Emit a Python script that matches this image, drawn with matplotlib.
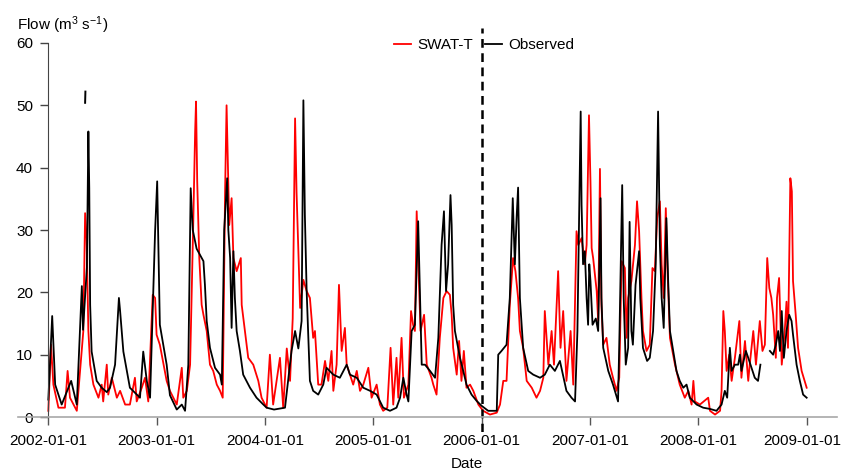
import numpy as np
import pandas as pd
import matplotlib.pyplot as plt
import matplotlib.dates as mdates
import matplotlib.transforms as mtransforms

plt.rcParams['font.family'] = ['Liberation Sans', 'DejaVu Sans']
plt.rcParams['mathtext.fontset'] = 'custom'
plt.rcParams['mathtext.rm'] = 'Liberation Sans'
plt.rcParams['mathtext.it'] = 'Liberation Sans:italic'

# record starts 2002-01-01, days counted from there
start = pd.Timestamp('2002-01-01')
split_date = pd.Timestamp('2006-01-01')   # calibration / validation split
years = list(range(2002, 2010))

# observed flow (m3/s); NaN = missing record
obs_day = [0, 13, 23, 45, 77, 96, 113, 117, 130, 135, 138, 141, 146, 163, 180, 197,
           208, 225, 238, 242, 253, 275, 309, 320, 332, 343, 360, 367, 376, 399, 410,
           433, 450, 461, 472, 480, 487, 500, 523, 528, 534, 545, 562, 579, 585, 593,
           603, 607, 613, 618, 624, 629, 635, 646, 657, 680, 702, 725, 736, 761, 798,
           820, 832, 843, 854, 860, 865, 871, 876, 882, 893, 910, 927, 938, 961, 983,
           1006, 1017, 1040, 1062, 1085, 1107, 1129, 1152, 1174, 1186, 1197, 1208, 1214,
           1225, 1236, 1247, 1253, 1259, 1270, 1287, 1304, 1315, 1326, 1334, 1341, 1348,
           1356, 1360, 1365, 1371, 1388, 1399, 1410, 1427, 1444, 1461, 1483, 1512, 1517,
           1528, 1545, 1556, 1566, 1573, 1579, 1584, 1590, 1601, 1618, 1635, 1658, 1674,
           1691, 1708, 1725, 1747, 1764, 1776, 1784, 1789, 1795, 1798, 1803, 1809, 1815,
           1820, 1824, 1828, 1835, 1846, 1854, 1862, 1865, 1871, 1888, 1904, 1921, 1926,
           1935, 1940, 1947, 1955, 1960, 1966, 1971, 1980, 1992, 1996, 2005, 2019, 2028,
           2039, 2048, 2056, 2062, 2068, 2075, 2084, 2090, 2096, 2107, 2118, 2129, 2141,
           2152, 2163, 2186, 2208, 2231, 2253, 2270, 2281, 2289, 2298, 2304, 2315, 2326,
           2332, 2337, 2352, 2360, 2371, 2382, 2393, 2401, 2417, 2433, 2444, 2453, 2461,
           2467, 2473, 2480, 2489, 2498, 2506, 2511, 2523, 2534, 2545, 2557]
obs_flow = [2.8, 16.2, 5.2, 2.0, 5.8, 2.0, 21, 14, 24, 45.8, 36.7, 18, 10.5, 5.8, 4.7, 4.0,
            4.7, 8.4, 19.1, 17, 10.5, 4.7, 3.1, 10.5, 5.8, 3.1, 29.8, 37.8, 14.8, 8.4, 3.5,
            1.2, 2.0, 1.0, 8.4, 36.7, 30, 27, 25, 21.2, 15.4, 11.1, 7.9, 6.8, 5.2, 30,
            38.3, 30, 25.5, 14.3, 26.6, 19.1, 13.8, 10.6, 6.8, 4.7, 3.1, 2.0, 1.5, 1.2, 1.5,
            10.6, 13.8, 11, 15.4, 50.8, 32.4, 20.2, 13.8, 5.8, 4.2, 3.6, 5.2, 7.9, 6.8, 6.3,
            8.4, 6.8, 6.3, 4.7, 4.2, 3.6, 1.5, 1.0, 1.5, 3.1, 6.3, 3.6, 2.5,
            13.8, 14.8, 31.4, 20, 8.4, 8.4, 7.4, 6.3, 12.7, 27.6, 33, 20.2, 24.5,
            35.6, 30.8, 18, 13.8, 9.5, 7.4, 5.2, 3.6, 2.6, 1.8, 1.0, 1.0, 10,
            10.6, 11.6, 19.1, 35.1, 24.5, 32, 36.8, 19.1, 11.1, 7.4, 6.8, 6.3, 6.8,
            8.4, 7.4, 9, 4.2, 3.1, 2.5, 13.8, 29.8, 49, 34, 24.5, 26.6, 19.1,
            14.8, 24.5, 21.8, 14.8, 15.8, 13.8, 35.1, 19.1, 11.1, 7.4, 5.2, 2.5, 13.8,
            37.2, 19.1, 8.4, 11.1, 31.3, 13.8, 11.6, 21.2, 26.6, 19.1, 11.1, 9, 9.5,
            13.8, 24.5, 49, 27.7, 19.1, 14.3, 31.9, 21.8, 13.8, 10.6, 7.4, 5.8, 4.7,
            5.2, 3.1, 2.0, 1.5, 1.3, 1.0, 2.0, 4.2, 3.1, 11.1, 7.4, 8.4, 8.4,
            10, 7.4, 10.6, 9.5, 7.9, 6.3, 5.8, 8.4, np.nan, 10.6, 10, 11.6, 13.8,
            10.6, 17, 9.5, 13.8, 16.4, 15.4, 13.2, 8.4, 5.8, 3.6, 3.1]

# isolated observed readings in May 2002
obs_iso_day = [124, 125]
obs_iso_flow = [50.4, 52.2]

# SWAT-T simulated flow (m3/s)
swat_day = [0, 9, 17, 34, 56, 65, 73, 96, 118, 124, 129, 135, 141, 152, 169, 180, 185,
            197, 202, 214, 231, 242, 259, 275, 292, 298, 315, 326, 337, 352, 360, 365,
            376, 399, 410, 433, 450, 455, 467, 478, 489, 495, 498, 502, 509, 517, 523,
            534, 545, 556, 568, 579, 588, 596, 601, 610, 618, 624, 635, 649, 652, 663,
            674, 691, 708, 719, 736, 747, 758, 781, 792, 804, 815, 824, 832, 837, 843,
            849, 860, 871, 882, 893, 899, 910, 921, 933, 944, 955, 961, 972, 980, 989,
            1000, 1006, 1017, 1028, 1040, 1051, 1062, 1079, 1090, 1107, 1118, 1129, 1143,
            1154, 1163, 1174, 1180, 1191, 1199, 1214, 1223, 1230, 1236, 1242, 1247, 1255,
            1267, 1276, 1292, 1298, 1309, 1320, 1332, 1343, 1354, 1360, 1365, 1377, 1385,
            1393, 1401, 1410, 1422, 1433, 1450, 1466, 1489, 1512, 1523, 1534, 1545, 1556,
            1567, 1575, 1584, 1590, 1601, 1613, 1630, 1646, 1658, 1669, 1674, 1686, 1697,
            1705, 1719, 1727, 1736, 1747, 1761, 1770, 1781, 1787, 1798, 1809, 1815, 1823,
            1828, 1832, 1837, 1849, 1854, 1860, 1865, 1871, 1882, 1893, 1904, 1916, 1925,
            1933, 1944, 1950, 1955, 1966, 1978, 1985, 1992, 2000, 2005, 2017, 2028, 2037,
            2045, 2053, 2062, 2068, 2075, 2082, 2087, 2096, 2113, 2129, 2146, 2158, 2169,
            2175, 2180, 2197, 2225, 2231, 2248, 2265, 2270, 2276, 2281, 2287, 2296, 2304,
            2315, 2330, 2337, 2349, 2360, 2365, 2377, 2386, 2393, 2399, 2408, 2416, 2424,
            2431, 2438, 2444, 2453, 2457, 2464, 2473, 2483, 2489, 2494, 2502, 2507, 2511,
            2520, 2528, 2540, 2557]
swat_flow = [1.0, 11.6, 5.2, 1.5, 1.5, 7.4, 3.1, 1.0, 13.8, 32.7, 28.7, 13.8, 8.4, 5.2, 3.1, 5.2, 2.5,
             8.4, 3.6, 6.3, 3.1, 4.2, 2.0, 2.0, 6.3, 2.5, 4.7, 6.3, 2.5, 19.6, 19.1, 13.2,
             11.6, 5.8, 4.2, 2.0, 7.9, 3.1, 4.2, 8.4, 31.9, 45.8, 50.6, 37.8, 25.5, 18, 16.4,
             13.8, 8.4, 7.4, 5.2, 4.2, 3.1, 36.2, 50, 30.8, 35.1, 25.5, 23.4, 25.5, 18, 13.8,
             9.5, 8.4, 5.8, 3.1, 1.5, 10, 2.0, 9.5, 1.5, 11, 5.8, 15.8, 47.9, 36, 27,
             17.5, 22, 20.2, 19.1, 12.7, 13.8, 5.2, 5.2, 9, 5.8, 10.6, 4.2, 8.4, 21.2, 10.6,
             14.3, 8.4, 6.8, 5.2, 7.4, 4.2, 5.2, 7.9, 3.1, 5.2, 2.0, 1.0, 1.5,
             11.1, 2.0, 9.5, 3.1, 12.7, 3.1, 5.2, 17, 14.8, 13.8, 33, 25.5, 13.8,
             16.4, 8.4, 6.3, 5.2, 3.6, 12.7, 19.1, 20.2, 19.6, 16.4, 11.1, 6.8, 12.2,
             5.8, 10.6, 4.7, 5.2, 4.2, 2.0, 1.0, 0.4, 0.7, 2.0, 5.8, 5.8, 18,
             25.5, 23.4, 19.1, 13.8, 11.1, 5.8, 4.7, 3.1, 4.2, 6.3, 17, 8.4, 13.8,
             8.4, 23.4, 11.1, 17, 5.8, 13.8, 5.2, 29.8, 27.6, 28.7, 24.5, 27.6, 48.4,
             37.8, 27.1, 25.5, 20.2, 15.4, 39.8, 18, 11.6, 12.7, 8.4, 6.3, 4.2, 6.3,
             25, 23.9, 12.7, 19.1, 21.8, 27.6, 34.6, 29.8, 19.1, 13.8, 10.6, 11.6, 23.9,
             23.4, 31.9, 34.6, 24.5, 19.1, 33.5, 24.5, 12.7, 8.4, 5.2, 3.1, 4.2, 2.0,
             5.8, 2.5, 2.0, 3.1, 1.0, 0.4, 1.0, 4.2, 17, 13.8, 7.4, 10, 5.8,
             9.5, 15.4, 6.3, 12.2, 5.8, 8.4, 13.8, 8.4, 12.2, 15.4, 10.6, 11.6, 25.5,
             20.7, 19.1, 16.4, 9.5, 19.1, 22.3, 8.4, 13.8, 18.5, 11.1, 38.3, 36.2, 21.8,
             16.4, 11.1, 7.4, 4.7]


def to_dates(days):
    return start + pd.to_timedelta(np.asarray(days, dtype=float), unit='D')


fig = plt.figure(figsize=(8.43, 4.71), dpi=100)
ax = fig.add_axes([18 / 843, 1 - 432 / 471, 819 / 843, 404 / 471])

ax.plot(to_dates(swat_day), swat_flow, color='#ff0000', lw=1.3, label='SWAT-T')
ax.plot(to_dates(obs_day), obs_flow, color='black', lw=1.3, label='Observed')
ax.plot(to_dates(obs_iso_day), obs_iso_flow, color='black', lw=1.4)

ax.axvline(split_date, color='black', lw=1.8, ls=(0, (3.5, 2.2)))

# R-style range padding of 4 % on both axes
t0 = mdates.date2num(pd.Timestamp('2002-01-01'))
t1 = mdates.date2num(pd.Timestamp('2009-01-01'))
pad = 0.04 * (t1 - t0)
ax.set_xlim(t0 - pad, t1 + pad)
ax.set_ylim(-2.4, 62.4)

for s in ('top', 'right'):
    ax.spines[s].set_visible(False)
ax.spines['left'].set_position(('data', t0))
ax.spines['left'].set_bounds(0, 60)
ax.spines['left'].set_color('#444444')
ax.spines['bottom'].set_position(('data', 0))
ax.spines['bottom'].set_color('#a8a8a8')
ax.spines['bottom'].set_linewidth(1.2)

ax.set_yticks(range(0, 61, 10))
ax.tick_params(axis='y', direction='out', length=6, width=1, color='#444444',
               labelsize=11, pad=5)
ax.set_xticks([pd.Timestamp(f'{y}-01-01') for y in years])
ax.xaxis.set_major_formatter(mdates.DateFormatter('%Y-%m-%d'))
ax.tick_params(axis='x', direction='out', length=6, width=1, color='#555555',
               labelsize=11, pad=6)

# nudge the last date label so it stays inside the canvas
last = ax.get_xticklabels()[-1]
last.set_transform(last.get_transform() +
                   mtransforms.ScaledTranslation(-4 / 100, 0, fig.dpi_scale_trans))

fig.text(17 / 843, 1 - 30 / 471, r'Flow (m$^3$ s$^{-1}$)', fontsize=11,
         ha='left', va='baseline')
fig.text(467 / 843, 1 - 457 / 471, 'Date', fontsize=11, ha='center', va='top')

fig.legend(loc='center', bbox_to_anchor=(484 / 843, 1 - 45 / 471), ncol=2,
           frameon=False, fontsize=11, handlelength=1.1, handletextpad=0.4,
           columnspacing=0.8, borderpad=0)

fig.savefig('out.png', dpi=100)
